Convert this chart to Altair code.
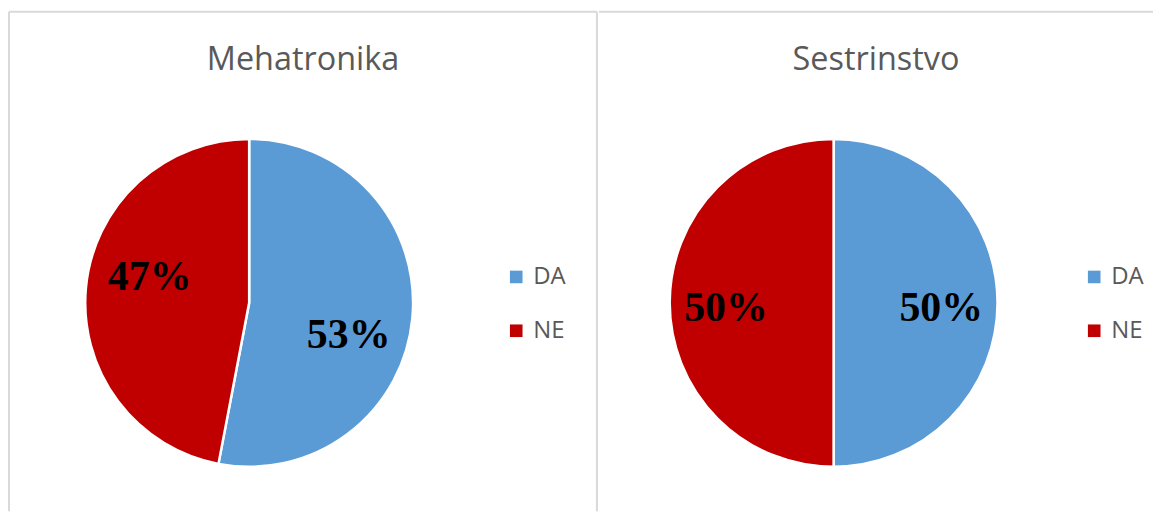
import math
import altair as alt
import pandas as pd

categories = ["DA", "NE"]
mehatronika = [53, 47]
sestrinstvo = [50, 50]
titles = ["Mehatronika", "Sestrinstvo"]
colors = ["#5B9BD5", "#C00000"]

GRAY = "#595959"
BORDER = "#D9D9D9"
H = 501


def panel(title, values, w, cx, label_r, label_rot, label_dy, legend_x, full_frame):
    df = pd.DataFrame({"cat": categories, "value": values,
                       "idx": list(range(len(categories)))})
    base = alt.Chart(df)
    color = alt.Color(
        "cat:N",
        scale=alt.Scale(domain=categories, range=colors),
        legend=alt.Legend(
            title=None, orient="none", legendX=legend_x, legendY=254,
            symbolType="square", symbolSize=160, symbolStrokeWidth=0,
            labelFont="Open Sans", labelFontSize=24, labelColor=GRAY,
            labelOffset=5, rowPadding=30, padding=0,
        ),
    )
    arc = base.mark_arc(radius=164.5, stroke="white", strokeWidth=2.5).encode(
        theta=alt.Theta("value:Q", stack=True),
        order=alt.Order("idx:Q"),
        color=color,
        x=alt.value(cx),
        y=alt.value(292),
    )
    text = base.transform_calculate(label="datum.value + '%'").mark_text(
        radius=label_r, font="Liberation Serif", fontSize=42, fontWeight="bold",
        color="black", align="center", baseline="middle", dy=label_dy,
    ).encode(
        theta=alt.Theta("value:Q", stack=True,
                        scale=alt.Scale(range=[label_rot, label_rot + 2 * math.pi])),
        order=alt.Order("idx:Q"),
        text="label:N",
        x=alt.value(cx),
        y=alt.value(292),
    )
    ttl = alt.Chart(pd.DataFrame({"t": [title]})).mark_text(
        font="Open Sans", fontSize=32.5, color=GRAY, align="center",
        baseline="alphabetic",
    ).encode(text="t:N", x=alt.value(w / 2), y=alt.value(58))

    frame_df = pd.DataFrame({"k": [0]})
    top = alt.Chart(frame_df).mark_rule(color=BORDER, strokeWidth=2).encode(
        x=alt.value(0), x2=alt.value(w), y=alt.value(0))
    layers = [top]
    if full_frame:
        lft = alt.Chart(frame_df).mark_rule(color=BORDER, strokeWidth=2).encode(
            x=alt.value(0), y=alt.value(0), y2=alt.value(H))
        rgt = alt.Chart(frame_df).mark_rule(color=BORDER, strokeWidth=2).encode(
            x=alt.value(w), y=alt.value(0), y2=alt.value(H))
        layers += [lft, rgt]
    return alt.layer(*layers, arc, text, ttl).resolve_scale(theta="independent").properties(
        width=w, height=H
    )


left = panel(titles[0], mehatronika, 590, 241, 104, 0.19, 3, 497, True)
right = panel(titles[1], sestrinstvo, 556, 235.5, 108, 0.0, 5, 485, False)

chart = alt.hconcat(left, right, spacing=0).resolve_scale(
    color="independent", theta="independent"
).properties(
    padding={"left": 0, "top": 2, "right": 0, "bottom": 0}
).configure_view(strokeWidth=0, stroke="transparent")

chart.save("out.html", embed_options={"renderer": "svg", "actions": False})
